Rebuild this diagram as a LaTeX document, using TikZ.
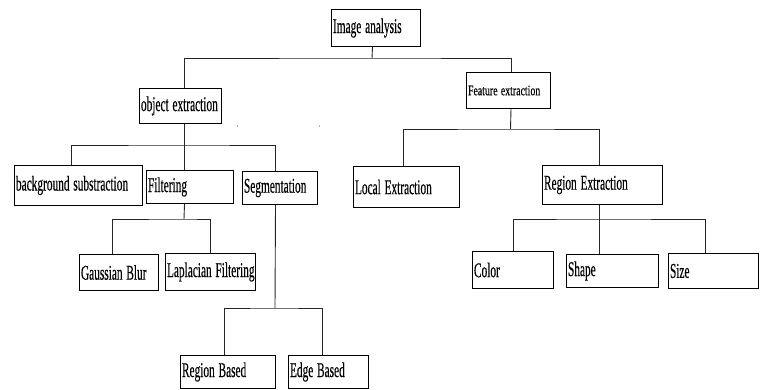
\documentclass[tikz,border=0pt]{standalone}
\usepackage{fontspec}
\usepackage{graphicx}
\setmainfont{Liberation Serif}[FakeBold=0.5]
\newcommand\cmpr[1]{\scalebox{0.54}[1]{#1}}
\newcommand\cmprs[1]{\scalebox{0.68}[1]{#1}}
\begin{document}
\begin{tikzpicture}[x=1pt,y=-1pt,
  box/.style={draw=black, line width=1pt, anchor=north west, inner xsep=1.5pt, inner ysep=0pt,
    font={\fontsize{21}{22}\selectfont}},
  conn/.style={draw=black!85, line width=0.9pt}]
\useasboundingbox (0,0) rectangle (762,390);
% nodes
\node[box, text width=86pt, minimum height=37pt] (ia) at (331,9) {\cmpr{Image analysis}};
\node[box, text width=79pt, minimum height=35pt] (oe) at (139,88) {\cmpr{object extraction}};
\node[box, text width=81pt, minimum height=36pt, font={\fontsize{14.5}{16}\selectfont}] (fe) at (466,72) {\cmprs{Feature extraction}};
\node[box, text width=125pt, minimum height=40pt] (bg) at (14,165) {\cmpr{background substraction}};
\node[box, text width=84pt, minimum height=33pt] (fi) at (146,170) {\cmpr{Filtering}};
\node[box, text width=72pt, minimum height=33pt] (se) at (242,171) {\cmpr{Segmentation}};
\node[box, text width=103pt, minimum height=41pt] (le) at (353,166) {\cmpr{Local Extraction}};
\node[box, text width=117pt, minimum height=39pt] (re) at (542,165) {\cmpr{Region Extraction}};
\node[box, text width=76pt, minimum height=36pt] (gb) at (79,254) {\cmpr{Gaussian Blur}};
\node[box, text width=87pt, minimum height=37pt] (lf) at (165,253) {\cmpr{Laplacian Filtering}};
\node[box, text width=92pt, minimum height=33pt] (rb) at (180,355) {\cmpr{Region Based}};
\node[box, text width=77pt, minimum height=33pt] (eb) at (288,355) {\cmpr{Edge Based}};
\node[box, text width=78pt, minimum height=37pt] (co) at (472,251) {\cmpr{Color}};
\node[box, text width=89pt, minimum height=33pt] (sh) at (566,254) {\cmpr{Shape}};
\node[box, text width=87pt, minimum height=35pt] (sz) at (668,253) {\cmpr{Size}};
% junctions
\coordinate (j1) at (372,58);
\coordinate (j2) at (184,145);
\coordinate (j3) at (510.5,129);
\coordinate (j4) at (184,219);
\coordinate (j5) at (275,308);
\coordinate (j6) at (598.5,219);
% connectors
\draw[conn] ([xshift=-3.5pt]ia.south) -- (j1);
\draw[conn] ([xshift=4pt]oe.north) |- (j1) -| ([xshift=2.5pt]fe.north);
\draw[conn] ([xshift=4pt]oe.south) -- ([xshift=-5.5pt]fi.north);
\draw[conn] ([xshift=-7pt]bg.north) |- (j2) -| ([xshift=-4.5pt]se.north);
\draw[conn] ([xshift=2.5pt]fe.south) -- (j3);
\draw[conn] ([xshift=-3pt]le.north) |- (j3) -| ([xshift=-3.5pt]re.north);
\draw[conn] ([xshift=-5.5pt]fi.south) -- (j4);
\draw[conn] ([xshift=-6.5pt]gb.north) |- (j4) -| (lf.north);
\draw[conn] ([xshift=-4.5pt]se.south) -- (j5);
\draw[conn] ([xshift=-3.5pt]rb.north) |- (j5) -| ([xshift=-6pt]eb.north);
\draw[conn] ([xshift=-3.5pt]re.south) -- ([xshift=-13.5pt]sh.north);
\draw[conn] (co.north) |- (j6) -| ([xshift=-8pt]sz.north);
% stray dots
\fill[black!60] (237.5,126) circle (0.7);
\fill[black!60] (319.5,126) circle (0.7);
\end{tikzpicture}
\end{document}
